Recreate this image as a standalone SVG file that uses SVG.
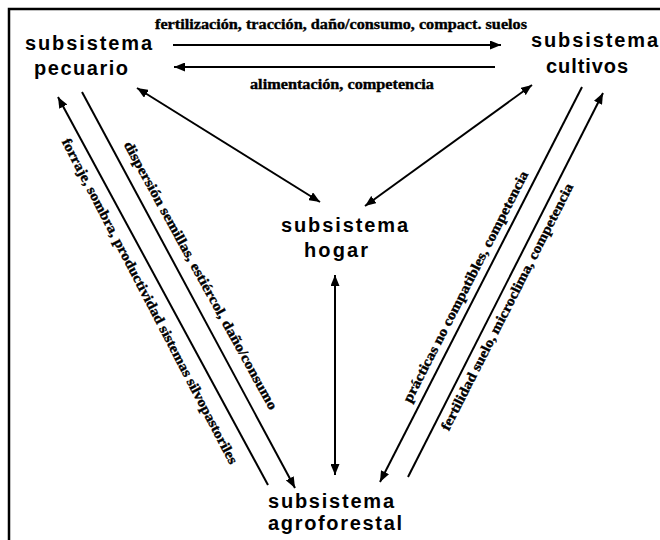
<svg xmlns="http://www.w3.org/2000/svg" width="660" height="540" viewBox="0 0 660 540">
<style>
.node{font-family:"Liberation Sans",Arial,sans-serif;font-weight:bold;font-size:20px;fill:#000}
.lbl{font-family:"Liberation Serif","Times New Roman",serif;font-weight:bold;font-size:14px;fill:#000;stroke:#000;stroke-width:0.35}
.ln{stroke:#000;stroke-width:2;fill:none}
</style>
<defs>
<marker id="ah" viewBox="0 0 11 9" refX="11" refY="4.5" markerWidth="11" markerHeight="9" markerUnits="userSpaceOnUse" orient="auto-start-reverse">
<path d="M0,0 L11,4.5 L0,9 z" fill="#000"/>
</marker>
</defs>
<rect width="660" height="540" fill="#fff"/>
<path d="M9,540 L9,9 L660,9" stroke="#000" stroke-width="2.5" fill="none"/>
<g id="pecuario">
<text class="node" x="25" y="50" textLength="127">subsistema</text>
<text class="node" x="34" y="75" textLength="94">pecuario</text>
</g>
<g id="cultivos">
<text class="node" x="531" y="47" textLength="127">subsistema</text>
<text class="node" x="546" y="73" textLength="82">cultivos</text>
</g>
<g id="hogar">
<text class="node" x="281" y="232" textLength="127">subsistema</text>
<text class="node" x="304" y="257" textLength="64">hogar</text>
</g>
<g id="agroforestal">
<text class="node" x="268" y="508" textLength="126">subsistema</text>
<text class="node" x="268" y="530" textLength="134">agroforestal</text>
</g>
<g id="connectors">
<line class="ln" x1="173" y1="45" x2="501" y2="45" marker-end="url(#ah)"/>
<line class="ln" x1="495" y1="67" x2="174" y2="67" marker-end="url(#ah)"/>
<line class="ln" x1="137" y1="88" x2="320" y2="202" marker-start="url(#ah)" marker-end="url(#ah)"/>
<line class="ln" x1="532" y1="85" x2="365" y2="206" marker-start="url(#ah)" marker-end="url(#ah)"/>
<line class="ln" x1="335" y1="275" x2="335" y2="475" marker-start="url(#ah)" marker-end="url(#ah)"/>
<line class="ln" x1="268" y1="485" x2="58" y2="97" marker-end="url(#ah)"/>
<line class="ln" x1="82" y1="92" x2="295" y2="488" marker-end="url(#ah)"/>
<line class="ln" x1="582" y1="87" x2="380" y2="482" marker-end="url(#ah)"/>
<line class="ln" x1="408" y1="477" x2="603" y2="93" marker-end="url(#ah)"/>
</g>
<g id="labels">
<text class="lbl" x="155" y="29" textLength="372" lengthAdjust="spacingAndGlyphs">fertilización, tracción, daño/consumo, compact. suelos</text>
<text class="lbl" x="250" y="89" textLength="184" lengthAdjust="spacingAndGlyphs">alimentación, competencia</text>
<text class="lbl" transform="translate(61.4,141.4) rotate(62.5)" textLength="365" lengthAdjust="spacingAndGlyphs">forraje, sombra, productividad sistemas silvopastoriles</text>
<text class="lbl" transform="translate(123.4,144.4) rotate(61.2)" textLength="304" lengthAdjust="spacingAndGlyphs">dispersión semillas, estiércol, daño/consumo</text>
<text class="lbl" transform="translate(410.7,403.4) rotate(-62.8)" textLength="258" lengthAdjust="spacingAndGlyphs">prácticas no compatibles, competencia</text>
<text class="lbl" transform="translate(448.7,431.4) rotate(-63)" textLength="275" lengthAdjust="spacingAndGlyphs">fertilidad suelo, microclima, competencia</text>
</g>
</svg>
